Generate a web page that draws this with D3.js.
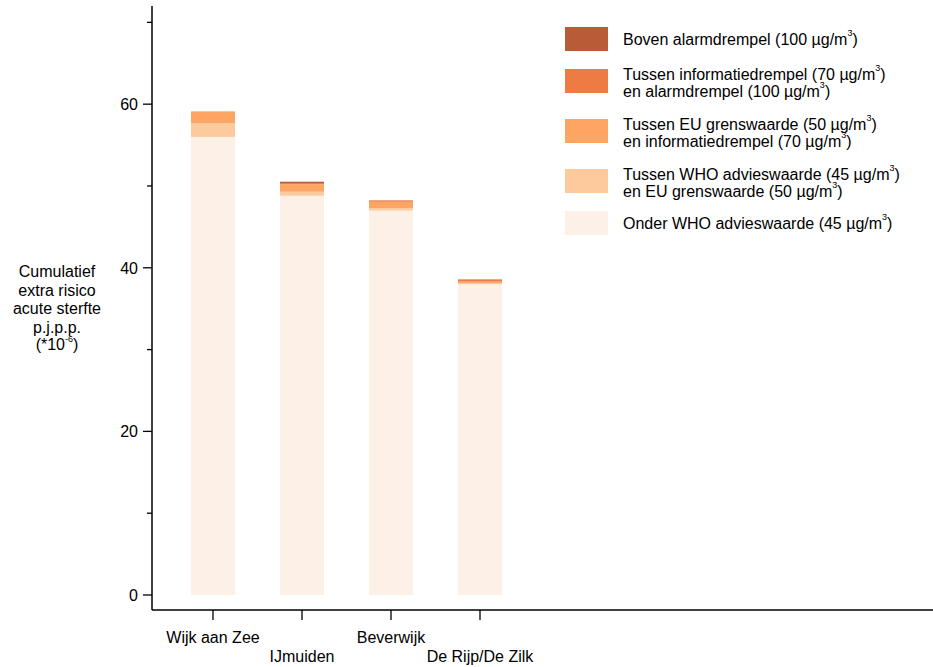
<!DOCTYPE html>
<html><head><meta charset="utf-8">
<script src="https://cdn.jsdelivr.net/npm/d3@7"></script>
<style>body{margin:0;background:#fff}text{font-family:"Liberation Sans",Arial,sans-serif;fill:#000}</style>
</head><body><svg id="c" width="933" height="667"></svg>
<script>
const categories = ["Wijk aan Zee","IJmuiden","Beverwijk","De Rijp/De Zilk"];
const onderWHO   = [56.0, 48.8, 47.0, 38.0];
const whoToEU    = [1.70, 0.50, 0.30, 0.12];
const euToInfo   = [1.35, 0.90, 0.77, 0.20];
const infoToAlarm= [0.05, 0.16, 0.16, 0.25];
const bovenAlarm = [0.00, 0.16, 0.02, 0.02];
const yTicks = [0,20,40,60];
const yMinorTicks = [10,30,50,70];
const colors = ["#fdf0e6","#fdca9d","#fda563","#ee7b43","#b85c38"];
const legendLines = [
  [["Boven alarmdrempel (100 µg/m","3",")"]],
  [["Tussen informatiedrempel (70 µg/m","3",")"],["en alarmdrempel (100 µg/m","3",")"]],
  [["Tussen EU grenswaarde (50 µg/m","3",")"],["en informatiedrempel (70 µg/m","3",")"]],
  [["Tussen WHO advieswaarde (45 µg/m","3",")"],["en EU grenswaarde (50 µg/m","3",")"]],
  [["Onder WHO advieswaarde (45 µg/m","3",")"]]
];
const yLabel = ["Cumulatief","extra risico","acute sterfte","p.j.p.p."];

const svg = d3.select("#c");
const x = d3.scalePoint().domain(categories).range([213,480]);
const y = d3.scaleLinear().domain([0,72]).range([595,6]);
const barW = 44;
const axisX = 152, axisY = 610;

const rows = categories.map((c,i)=>({cat:c, v0:onderWHO[i], v1:whoToEU[i], v2:euToInfo[i], v3:infoToAlarm[i], v4:bovenAlarm[i]}));
const stack = d3.stack().keys(["v0","v1","v2","v3","v4"])(rows);

svg.append("g").selectAll("g").data(stack).join("g")
  .attr("fill",(d,i)=>colors[i])
  .selectAll("rect").data(d=>d).join("rect")
  .attr("x",d=>x(d.data.cat)-barW/2).attr("width",barW)
  .attr("y",d=>y(d[1])).attr("height",d=>Math.max(0,y(d[0])-y(d[1])));

// y axis
svg.append("line").attr("x1",axisX).attr("x2",axisX).attr("y1",y(72)).attr("y2",axisY).attr("stroke","#000").attr("stroke-width",1.5);
svg.append("g").selectAll("line").data(yTicks).join("line")
  .attr("x1",axisX-9).attr("x2",axisX).attr("y1",d=>y(d)).attr("y2",d=>y(d)).attr("stroke","#000").attr("stroke-width",1.3);
svg.append("g").selectAll("line").data(yMinorTicks).join("line")
  .attr("x1",axisX-5).attr("x2",axisX).attr("y1",d=>y(d)).attr("y2",d=>y(d)).attr("stroke","#000").attr("stroke-width",1.3);
svg.append("g").selectAll("text").data(yTicks).join("text")
  .attr("x",axisX-14).attr("y",d=>y(d)+6).attr("text-anchor","end").attr("font-size",16).text(d=>d);

// x axis
svg.append("line").attr("x1",axisX).attr("x2",933).attr("y1",axisY).attr("y2",axisY).attr("stroke","#000").attr("stroke-width",1.5);
svg.append("g").selectAll("line").data(categories).join("line")
  .attr("x1",d=>x(d)).attr("x2",d=>x(d)).attr("y1",axisY).attr("y2",axisY+10).attr("stroke","#000").attr("stroke-width",1.3);
svg.append("g").selectAll("text").data(categories).join("text")
  .attr("x",d=>x(d)).attr("y",(d,i)=> i%2===0 ? 643 : 662).attr("text-anchor","middle").attr("font-size",16).text(d=>d);

// y label
const yl = svg.append("text").attr("text-anchor","middle").attr("font-size",16);
yLabel.forEach((t,i)=>yl.append("tspan").attr("x",57).attr("y",277+i*18.5).text(t));
const last = svg.append("text").attr("text-anchor","middle").attr("font-size",16).attr("x",57).attr("y",350);
last.append("tspan").text("(*10");
last.append("tspan").attr("font-size",9).attr("dy",-8).text("-6");
last.append("tspan").attr("dy",8).text(")");

// legend
const legTops = [27,69,119,169,211];
const legendColors = colors.slice().reverse();
legendLines.forEach((lines,i)=>{
  svg.append("rect").attr("x",565).attr("y",legTops[i]).attr("width",43).attr("height",24).attr("fill",legendColors[i]);
  lines.forEach((parts,j)=>{
    const t = svg.append("text").attr("x",623).attr("y",(lines.length===1? legTops[i]+18 : legTops[i]+11+j*17)).attr("font-size",16);
    t.append("tspan").text(parts[0]);
    t.append("tspan").attr("font-size",9).attr("dy",-9).text(parts[1]);
    t.append("tspan").attr("dy",9).text(parts[2]);
  });
});
</script></body></html>
